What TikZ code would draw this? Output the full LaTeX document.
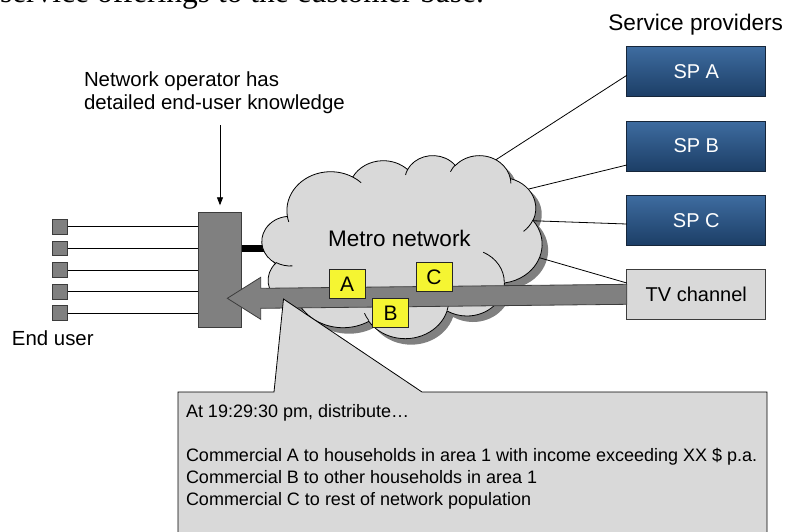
\documentclass[tikz,border=0pt]{standalone}
\usepackage{fontspec}
\setmainfont{Liberation Sans}
\newfontfamily\bodyserif{Liberation Serif}
\usetikzlibrary{arrows.meta}

\definecolor{boxgray}{RGB}{128,128,128}
\definecolor{edgegray}{RGB}{60,60,60}
\definecolor{cloudfill}{RGB}{217,217,217}
\definecolor{sptop}{RGB}{62,108,160}
\definecolor{spbottom}{RGB}{28,62,102}
\definecolor{spedge}{RGB}{22,38,58}
\definecolor{tagyellow}{RGB}{245,245,50}

\newcommand\setfs[2]{\fontsize{#1}{#2}\selectfont}

% elliptical arc given by radii and a visual start angle / sweep (degrees)
\newcommand\cloudarc[4]{%
  \pgfextra{%
    \pgfmathparse{atan2((#1)*sin(#3),(#2)*cos(#3))}\xdef\cldS{\pgfmathresult}%
    \pgfmathparse{atan2((#1)*sin((#3)+(#4)),(#2)*cos((#3)+(#4)))}\xdef\cldE{\pgfmathresult}%
    \pgfmathparse{mod((\cldE)-(\cldS)+720,360)}\xdef\cldD{\pgfmathresult}%
  }%
  arc[x radius=#1, y radius=#2, start angle=\cldS, delta angle=\cldD]}

% cloud outline in a 43.2 x 43.2 frame
\newcommand\cloudoutline{(3.9,14.37)
  \cloudarc{6.753}{9.190}{-190.4875}{123.7805}
  \cloudarc{5.333}{7.267}{-144.1024}{89.9452}
  \cloudarc{4.365}{5.945}{-145.8079}{99.7230}
  \cloudarc{4.857}{6.595}{-130.9861}{117.2417}
  \cloudarc{5.333}{7.273}{-78.7089}{109.0269}
  \cloudarc{6.775}{9.220}{-46.2673}{130.2690}
  \cloudarc{5.785}{7.867}{0.6250}{114.0333}
  \cloudarc{6.752}{9.215}{22.4516}{115.1726}
  \cloudarc{7.720}{10.543}{66.2426}{75.7110}
  \cloudarc{4.360}{5.918}{-274.9421}{146.7356}
  \cloudarc{4.345}{5.945}{-246.8285}{152.5189} -- cycle}

% inner crease lines of the cloud
\newcommand\cloudcreases{
  (4.693,26.177) \cloudarc{4.345}{5.945}{86.7420}{26.4295}
  (6.928,34.899) \cloudarc{4.360}{5.918}{73.6105}{11.4475}
  (16.478,39.090) \cloudarc{6.752}{9.215}{137.6242}{14.0811}
  (28.827,34.751) \cloudarc{6.752}{9.215}{6.4533}{15.9984}
  (34.129,22.954) \cloudarc{5.785}{7.867}{-70.2924}{70.9174}
  (41.798,15.354) \cloudarc{5.333}{7.273}{30.3180}{27.7515}
  (38.324,5.426) \cloudarc{4.857}{6.595}{-13.7443}{14.8589}
  (29.078,3.952) \cloudarc{4.857}{6.595}{-149.1815}{18.1954}
  (22.141,4.720) \cloudarc{4.365}{5.945}{-163.4943}{17.6864}
  (14.000,5.192) \cloudarc{6.753}{9.190}{-66.7070}{12.3194}
  (4.127,15.789) \cloudarc{6.753}{9.190}{157.6544}{11.8582}}

\tikzset{
  every node/.style={inner sep=0pt, outer sep=0pt},
  thinline/.style={line width=0.8pt},
  userbox/.style={draw=edgegray, fill=boxgray, line width=0.7pt,
    minimum width=15pt, minimum height=14.5pt},
  opbox/.style={draw=edgegray, fill=boxgray, line width=0.8pt,
    minimum width=43.4pt, minimum height=115pt},
  spbox/.style={draw=spedge, top color=sptop, bottom color=spbottom,
    line width=0.8pt, minimum width=139pt, minimum height=50pt,
    text=white, font=\setfs{20}{24}},
  tvbox/.style={draw=edgegray, fill=cloudfill, line width=0.8pt,
    minimum width=139pt, minimum height=50pt, font=\setfs{20}{24}},
  tagbox/.style={draw=black!85, fill=tagyellow, line width=0.7pt,
    minimum width=36pt, minimum height=29pt, font=\setfs{21}{24}},
  plaintext/.style={anchor=base west, font=\setfs{20.4}{23}},
  notetext/.style={anchor=base west, font=\setfs{18}{22}},
}

\begin{document}
\begin{tikzpicture}[x=1pt, y=-1pt]
\useasboundingbox (0,0) rectangle (786,531);
\clip (0,0) rectangle (786,531);

% running text above the figure
\node[anchor=base west, font=\bodyserif\setfs{31.5}{34}] (headline) at (0,2.5)
  {service offerings to the customer base.};

\node[anchor=base east, font=\setfs{22.6}{26}] (sptitle) at (783,30) {Service providers};

% network operator and end users
\node[plaintext] (info1) at (84,86) {Network operator has};
\node[plaintext] (info2) at (84,109) {detailed end-user knowledge};

\node[opbox] (op) at (220,269.8) {};
\foreach \i/\yy in {1/226.7, 2/248.2, 3/270, 4/291.7, 5/313} {
  \node[userbox] (eu\i) at (60,\yy) {};
  \draw[thinline] (eu\i.east) -- (eu\i.east -| op.west);
}
\node[plaintext] (enduser) at (12,345) {End user};

\coordinate (infotail) at (220,125);
\draw[thinline, -{Triangle[length=8pt,width=6pt]}] (infotail) -- ([yshift=7pt]op.north);

% service providers and the TV channel
\node[spbox] (spA) at (696.3,71.5) {SP A};
\node[spbox] (spB) at (696.3,146) {SP B};
\node[spbox] (spC) at (696.3,220.3) {SP C};
\node[tvbox] (tv) at (696.3,294.3) {TV channel};

% cloud shadow
\begin{scope}[shift={(268,161)}, xscale=6.4815, yscale=4.2361]
  \fill[boxgray] \cloudoutline;
\end{scope}

% links into the metro network
\coordinate (cA) at (480,170);
\coordinate (cB) at (510,193.6);
\coordinate (cC) at (520,220.3);
\coordinate (cT) at (530,255);
\coordinate (barend) at (280,248.7);
\draw[thinline] ([yshift=-3.8pt]spA.west) -- (cA);
\draw[thinline] ([yshift=-19pt]spB.west) -- (cB);
\draw[thinline] ([yshift=-3.7pt]spC.west) -- (cC);
\draw[thinline] ([yshift=11.3pt]tv.west) -- (cT);
\draw[line width=7pt] (barend -| op.east) -- (barend);

% metro network cloud
\begin{scope}[shift={(262,155)}, xscale=6.4815, yscale=4.2361]
  \filldraw[fill=cloudfill, draw=black, line width=0.8pt] \cloudoutline;
  \draw[line width=0.8pt] \cloudcreases;
\end{scope}
\node[anchor=base, font=\setfs{22.5}{26}] (metro) at (399.5,246) {Metro network};

% broadcast stream from the TV channel to the operator
\coordinate (streamtip) at (227.3,298.3);
\fill[boxgray, draw=edgegray, line width=0.8pt]
  ([yshift=10pt]tv.west) -- (260.7,288.3) -- (260.7,277.3) -- (streamtip)
  -- (260.7,319.3) -- (260.7,308.3) -- ([yshift=-10pt]tv.west) -- cycle;

\node[tagbox] (tagA) at (347.2,284) {A};
\node[tagbox] (tagB) at (390.7,312.8) {B};
\node[tagbox] (tagC) at (434,277) {C};

% callout with the distribution rule
\filldraw[fill=cloudfill, draw=black, line width=0.8pt]
  (178,392) -- (274,392) -- (283.5,299) -- (422,392) -- (767,392)
  -- (767,545) -- (178,545) -- cycle;
\node[notetext] (note1) at (186,417) {At 19:29:30 pm, distribute…};
\node[notetext] (note2) at (186,461) {Commercial A to households in area 1 with income exceeding XX \$ p.a.};
\node[notetext] (note3) at (186,483) {Commercial B to other households in area 1};
\node[notetext] (note4) at (186,505) {Commercial C to rest of network population};
\end{tikzpicture}
\end{document}
